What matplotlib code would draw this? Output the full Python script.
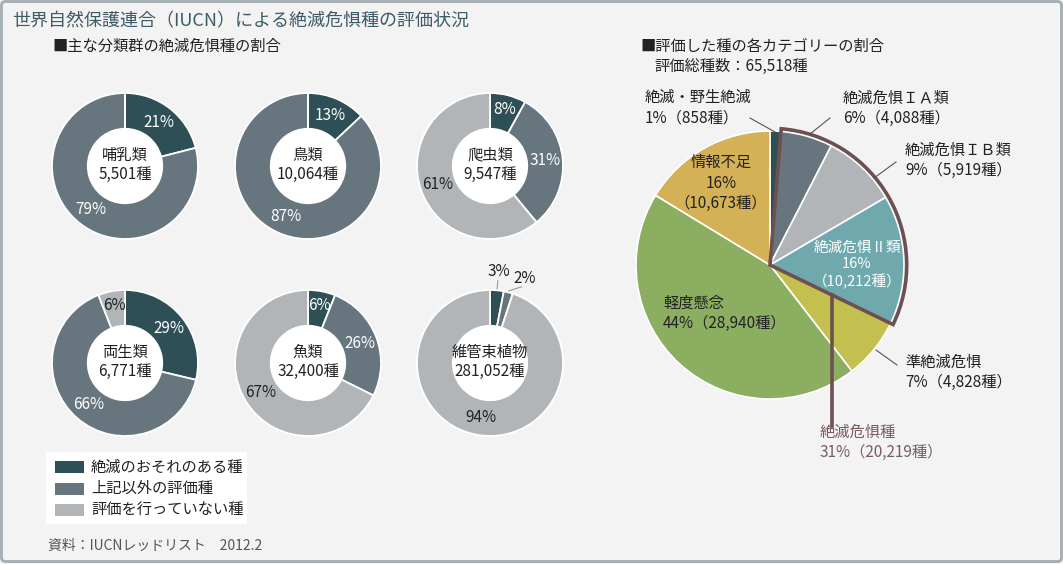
"""IUCN レッドリスト 2012.2 — 分類群別ドーナツ + カテゴリー別円グラフ"""
import numpy as np
import matplotlib
matplotlib.use("Agg")
import matplotlib.pyplot as plt
from matplotlib.patches import Wedge, Rectangle, FancyBboxPatch, Circle

plt.rcParams["font.family"] = ["Noto Sans CJK JP", "DejaVu Sans"]

W, H = 1063, 564

# --- données -------------------------------------------------------------
groups = ["哺乳類", "鳥類", "爬虫類", "両生類", "魚類", "維管束植物"]
group_counts = ["5,501", "10,064", "9,547", "6,771", "32,400", "281,052"]
# 絶滅のおそれのある種 / 上記以外の評価種 / 評価を行っていない種 (%)
threatened = [21, 13, 8, 29, 6, 3]
other_eval = [79, 87, 31, 66, 26, 2]
not_eval = [0, 0, 61, 6, 67, 94]

legend_labels = ["絶滅のおそれのある種", "上記以外の評価種", "評価を行っていない種"]

cat_names = ["絶滅・野生絶滅", "絶滅危惧ＩＡ類", "絶滅危惧ＩＢ類", "絶滅危惧Ⅱ類",
             "準絶滅危惧", "軽度懸念", "情報不足"]
cat_counts = [858, 4088, 5919, 10212, 4828, 28940, 10673]
cat_pcts = [1, 6, 9, 16, 7, 44, 16]
threat_total, threat_pct = 20219, 31

# --- style ---------------------------------------------------------------
C_DARK, C_MID, C_LIGHT = "#2f4f57", "#67767e", "#b1b5b8"
ring_colors = [C_DARK, C_MID, C_LIGHT]
cat_colors = ["#2f4f57", "#67767e", "#b1b5b8", "#6fa9ae", "#c3c04f", "#8cae61", "#d4b056"]
BROWN = "#6e4f52"
TXT = "#222222"
BG = "#f3f3f3"

# centres des donuts (px) + rayon
donut_xy = [(125, 166), (308, 166), (490, 166), (125, 363), (308, 363), (490, 363)]
R_D = 73

fig = plt.figure(figsize=(W / 100, H / 100), dpi=100, facecolor=BG)


def axes_px(cx, cy, r):
    return fig.add_axes([(cx - r) / W, 1 - (cy + r) / H, 2 * r / W, 2 * r / H])


for i, (cx, cy) in enumerate(donut_xy):
    vals = [threatened[i], other_eval[i], not_eval[i]]
    ax = axes_px(cx, cy, R_D)
    ax.pie(vals, colors=ring_colors, startangle=90, counterclock=False, radius=1,
           wedgeprops=dict(width=0.49, edgecolor="white", linewidth=1.3))
    ax.add_patch(Circle((0, 0), 0.51, facecolor="white", edgecolor="none"))
    ax.set_xlim(-1, 1); ax.set_ylim(-1, 1); ax.set_aspect("equal"); ax.axis("off")
    ax.text(0, 0.02, f"{groups[i]}\n{group_counts[i]}種", ha="center", va="center",
            fontsize=11, color=TXT, linespacing=1.15)
    start = 90.0
    for j, v in enumerate(vals):
        if v == 0:
            continue
        span = v / sum(vals) * 360
        mid = np.deg2rad(start - span / 2)
        start -= span
        col = TXT if j == 2 else "white"
        if v <= 3:  # petites parts : étiquette à l'extérieur
            ang = mid if j == 0 else mid - np.deg2rad(8)
            ax.plot([np.cos(mid) * 1.02, np.cos(ang) * 1.13],
                    [np.sin(mid) * 1.02, np.sin(ang) * 1.13], color="#999999", lw=0.8,
                    clip_on=False)
            ax.text(np.cos(ang) * 1.25, np.sin(ang) * 1.26, f"{v}%", ha="center",
                    va="center", fontsize=11, color=TXT)
        else:
            rr = 0.8 if v < 10 else 0.76
            ax.text(np.cos(mid) * rr, np.sin(mid) * rr, f"{v}%", ha="center",
                    va="center", fontsize=11, color=col)

# --- grand camembert -----------------------------------------------------
PCX, PCY, PR = 770, 265, 134
pax = axes_px(PCX, PCY, PR)
pax.pie(cat_counts, colors=cat_colors, startangle=90, counterclock=False, radius=1,
        wedgeprops=dict(edgecolor="white", linewidth=1.2))
pax.set_xlim(-1, 1); pax.set_ylim(-1, 1); pax.set_aspect("equal"); pax.axis("off")

tot = sum(cat_counts)
edges = 90 - np.cumsum([0] + cat_counts) / tot * 360
# contour du groupe "絶滅危惧種" (IA + IB + II)
pax.add_patch(Wedge((0, 0), 1.02, edges[4], edges[1], fill=False, edgecolor=BROWN,
                    lw=2.6, clip_on=False, zorder=5))
lx = (832 - PCX) / PR
ly = lx * np.tan(np.deg2rad(edges[4]))
pax.plot([lx, lx], [ly, -1.2], color=BROWN, lw=2.6, clip_on=False, zorder=5)

# --- calque texte (pixels) -----------------------------------------------
ov = fig.add_axes([0, 0, 1, 1], facecolor="none")
ov.set_xlim(0, W); ov.set_ylim(H, 0); ov.axis("off")

ov.add_patch(FancyBboxPatch((1.5, 1.5), W - 3, H - 4, boxstyle="round,pad=0,rounding_size=4",
                            fill=False, edgecolor="#a3adb2", lw=2))

ov.text(12, 21, "世界自然保護連合（IUCN）による絶滅危惧種の評価状況", fontsize=13,
        color="#3e5c68", va="center")
ov.text(52, 46, "■主な分類群の絶滅危惧種の割合", fontsize=11, color=TXT, va="center")
ov.text(640, 46, "■評価した種の各カテゴリーの割合", fontsize=11, color=TXT, va="center")
ov.text(654, 66, "評価総種数：65,518種", fontsize=11, color=TXT, va="center")


def fmt(n):
    return f"{n:,}"


LS = 1.25
ov.text(645, 108, f"{cat_names[0]}\n{cat_pcts[0]}%（{fmt(cat_counts[0])}種）",
        fontsize=11, color=TXT, va="center", linespacing=LS)
ov.plot([750, 775], [118, 132], color="#555555", lw=0.8)
ov.text(843, 108, f"{cat_names[1]}\n{cat_pcts[1]}%（{fmt(cat_counts[1])}種）",
        fontsize=11, color=TXT, va="center", linespacing=LS)
ov.plot([830, 810], [118, 134], color="#555555", lw=0.8)
ov.text(905, 160, f"{cat_names[2]}\n{cat_pcts[2]}%（{fmt(cat_counts[2])}種）",
        fontsize=11, color=TXT, va="center", linespacing=LS)
ov.plot([896, 874], [162, 178], color="#555555", lw=0.8)
ov.text(857, 265, f"{cat_names[3]}\n{cat_pcts[3]}%\n（{fmt(cat_counts[3])}種）",
        fontsize=10.5, color="white", va="center", ha="center", linespacing=LS)
ov.text(905, 372, f"{cat_names[4]}\n{cat_pcts[4]}%（{fmt(cat_counts[4])}種）",
        fontsize=11, color=TXT, va="center", linespacing=LS)
ov.plot([876, 897], [350, 365], color="#555555", lw=0.8)
ov.text(663, 313, f"{cat_names[5]}\n{cat_pcts[5]}%（{fmt(cat_counts[5])}種）",
        fontsize=11, color=TXT, va="center", linespacing=LS)
ov.text(721, 183, f"{cat_names[6]}\n{cat_pcts[6]}%\n（{fmt(cat_counts[6])}種）",
        fontsize=11, color=TXT, va="center", ha="center", linespacing=LS)
ov.text(820, 442, f"絶滅危惧種\n{threat_pct}%（{fmt(threat_total)}種）",
        fontsize=11, color="#7a5c5e", va="center", linespacing=LS)

# légende
ov.add_patch(Rectangle((46, 452), 201, 72, facecolor="white", edgecolor="none"))
for k, (lab, col) in enumerate(zip(legend_labels, ring_colors)):
    y = 467 + k * 21.5
    ov.add_patch(Rectangle((55, y - 6), 29, 12, facecolor=col, edgecolor="none"))
    ov.text(91, y, lab, fontsize=11, color=TXT, va="center")

ov.text(48, 546, "資料：IUCNレッドリスト　2012.2", fontsize=10, color="#555555", va="center")

fig.savefig("out.png", dpi=100, facecolor=BG)
